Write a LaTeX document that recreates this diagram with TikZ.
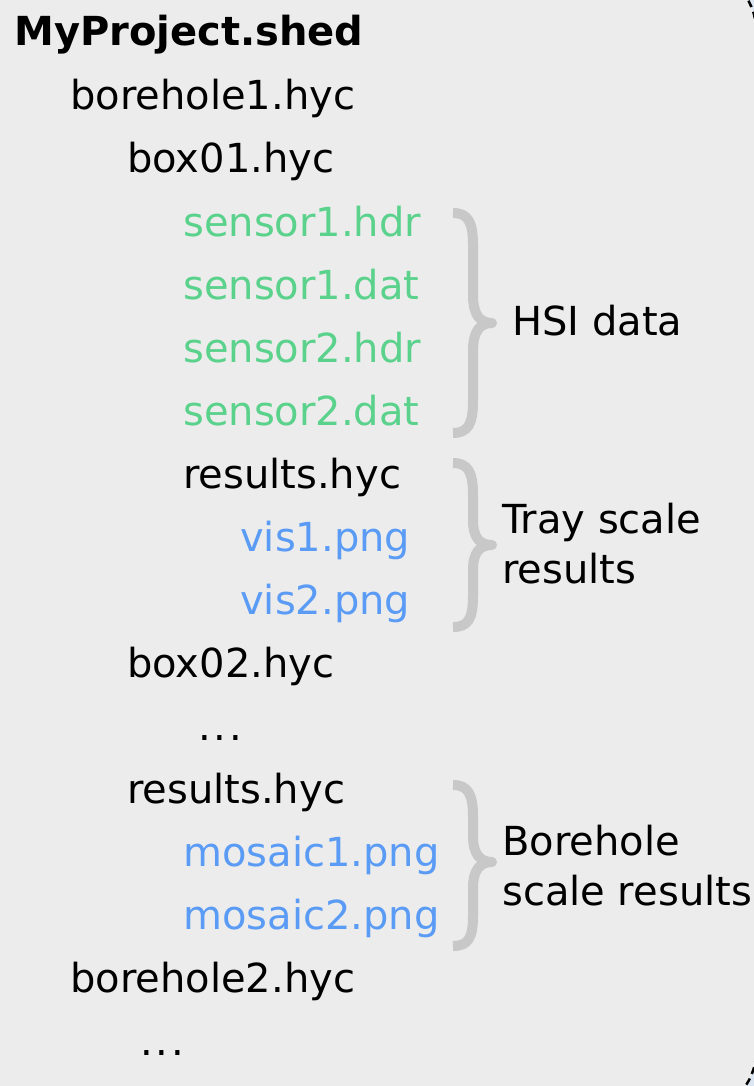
\documentclass[tikz,border=0pt]{standalone}
\usepackage{fontspec}
\setmainfont{DejaVu Sans}
\begin{document}
\definecolor{panelbg}{HTML}{ECECEC}
\definecolor{outerbg}{HTML}{DCE6F2}
\definecolor{datagreen}{HTML}{5AD28C}
\definecolor{imgblue}{HTML}{5A9BF5}
\definecolor{bracegray}{HTML}{C8C8C8}
\begin{tikzpicture}[x=1pt,y=-1pt,
  entry/.style={anchor=base west,inner sep=0pt,font=\fontsize{40}{50}\selectfont},
  hsi/.style={entry,text=datagreen},
  img/.style={entry,text=imgblue},
  note/.style={anchor=base west,inner sep=0pt,align=left,font=\fontsize{40}{50}\selectfont},
  bracestroke/.style={draw=bracegray,line width=10pt,line cap=butt,line join=round}]
\useasboundingbox (0,0) rectangle (754,1086);
\begin{scope}
  \clip (0,0) rectangle (754,1086);
  \fill[outerbg] (0,0) rectangle (754,1086);
  \draw[fill=panelbg,dashed,dash pattern=on 7pt off 5pt,line width=2.5pt,rounded corners=60pt]
    (-60,-30) rectangle (756,1112);
\end{scope}

% file tree
\node[entry,font=\fontsize{40}{50}\selectfont\bfseries] (proj) at (14,46) {MyProject.shed};
\node[entry] (bh1) at (70,110) {borehole1.hyc};
\node[entry] (box1) at (127,173) {box01.hyc};
\node[hsi] (s1h) at (183,236) {sensor1.hdr};
\node[hsi] (s1d) at (183,299) {sensor1.dat};
\node[hsi] (s2h) at (183,362) {sensor2.hdr};
\node[hsi] (s2d) at (183,425) {sensor2.dat};
\node[entry] (res1) at (183,488) {results.hyc};
\node[img] (vis1) at (240,551) {vis1.png};
\node[img] (vis2) at (240,614) {vis2.png};
\node[entry] (box2) at (127,677) {box02.hyc};
\node[entry] (dots1) at (198,740) {.\kern3pt.\kern3pt.};
\node[entry] (res2) at (127,803) {results.hyc};
\node[img] (mos1) at (183,866) {mosaic1.png};
\node[img] (mos2) at (183,929) {mosaic2.png};
\node[entry] (bh2) at (70,992) {borehole2.hyc};
\node[entry] (dots2) at (140,1055) {.\kern3pt.\kern3pt.};

% grouping braces
\draw[bracestroke] (453,213) .. controls (468,213) and (473,222) .. (473,245)
  -- (473,295) .. controls (473,315) and (480,323) .. (492,323)
  .. controls (480,323) and (473,331) .. (473,351)
  -- (473,401) .. controls (473,424) and (468,433) .. (453,433);
\draw[bracestroke] (453,463) .. controls (468,463) and (473,472) .. (473,495)
  -- (473,520) .. controls (473,538) and (480,545) .. (492,545)
  .. controls (480,545) and (473,552) .. (473,570)
  -- (473,596) .. controls (473,619) and (468,627) .. (453,627);
\draw[bracestroke] (453,785) .. controls (468,785) and (473,794) .. (473,817)
  -- (473,836) .. controls (473,854) and (480,862) .. (492,862)
  .. controls (480,862) and (473,870) .. (473,888)
  -- (473,916) .. controls (473,938) and (468,946) .. (453,946);

% group labels (base anchor sits on the last line)
\node[note] (lhsi) at (512,335) {HSI data};
\node[note] (ltray) at (502,583) {Tray scale\\results};
\node[note] (lbore) at (502,905) {Borehole\\scale results};
\end{tikzpicture}
\end{document}
